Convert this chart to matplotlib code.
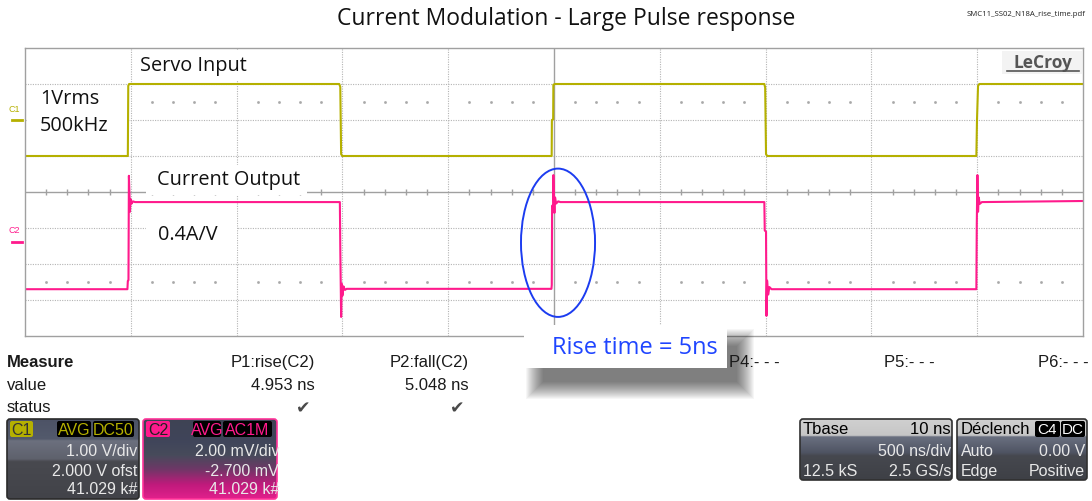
import numpy as np
import matplotlib.pyplot as plt
from matplotlib.patches import Ellipse, Rectangle, FancyBboxPatch
from matplotlib.colors import to_rgb

plt.rcParams['font.family'] = ['Open Sans', 'DejaVu Sans']

# --- traces: time in us (500 ns/div), amplitude in divisions ---
c1_t = [-2.5, -2.014, -2.012, -2.008, -1.015, -1.010, -1.006, -1.000,
        -0.011, -0.010, -0.004, -0.003, 0.005, 0.994, 0.998, 1.002, 1.008,
        1.996, 1.999, 2.004, 2.010, 2.5]
c1_div = [1.0, 1.0, 2.95, 3.0, 3.0, 2.92, 1.05, 1.0,
          1.0, 2.0, 2.02, 2.98, 3.0, 3.0, 2.9, 1.05, 1.0,
          1.0, 2.0, 2.95, 3.0, 3.0]

c2_t = [-2.5, -2.016, -2.014, -2.011, -2.009, -2.006, -2.004, -2.001, -1.996, -1.990, -1.980,
        -1.012, -1.010, -1.006, -1.003, -1.000, -0.995, -0.988, -0.980,
        -0.012, -0.0105, -0.009, -0.004, -0.003, 0.000, 0.002, 0.005, 0.010, 0.020, 0.030,
        0.994, 0.996, 1.002, 1.004, 1.007, 1.012, 1.018, 1.028,
        1.996, 1.998, 2.001, 2.004, 2.007, 2.012, 2.022, 2.5]
c2_div = [-2.70, -2.70, -2.47, -2.45, 0.45, -0.10, -0.55, -0.20, -0.32, -0.26, -0.28,
          -0.28, -1.55, -3.47, -2.55, -2.88, -2.62, -2.72, -2.69,
          -2.69, -2.58, -0.38, -0.40, 0.47, -0.35, -0.58, -0.15, -0.32, -0.26, -0.28,
          -0.28, -1.07, -1.10, -3.44, -2.46, -2.85, -2.64, -2.70,
          -2.70, -0.90, 0.47, -0.55, -0.15, -0.33, -0.28, -0.25]

measure_names = ['P1:rise(C2)', 'P2:fall(C2)']
measure_values = ['4.953 ns', '5.048 ns']
empty_params = ['P4:- - -', 'P5:- - -', 'P6:- - -']
c1_settings = ['1.00 V/div', '2.000 V ofst', '41.029 k#']
c2_settings = ['2.00 mV/div', '-2.700 mV', '41.029 k#']
tbase_rows = [('', '500 ns/div'), ('12.5 kS', '2.5 GS/s')]
trig_rows = [('Auto', '0.00 V'), ('Edge', 'Positive')]

YEL = '#b5b000'
PINK = '#ff1a8c'
PANEL = 'Liberation Sans'

W, H = 1092, 502
fig = plt.figure(figsize=(W / 100, H / 100), dpi=100)
fig.patch.set_facecolor('white')

# scope grid: 10 x 8 divisions
scope = fig.add_axes([25 / W, 1 - 337 / H, 1058 / W, 288 / H])
ov = fig.add_axes([0, 0, 1, 1])
ov.set_xlim(0, W)
ov.set_ylim(H, 0)
ov.axis('off')
px = ov.transData

scope.set_xlim(-2.5, 2.5)
scope.set_ylim(-4, 4)
scope.set_xticks([])
scope.set_yticks([])
for s in scope.spines.values():
    s.set_color('#a0a0a0')
    s.set_linewidth(1)

dot = (0, (1, 1.2))
for x in np.arange(-2.0, 2.01, 0.5):
    if abs(x) > 1e-9:
        scope.axvline(x, color='#b4b4b4', lw=0.8, ls=dot, zorder=1)
for y in np.arange(-3, 4):
    if y != 0:
        scope.axhline(y, color='#b4b4b4', lw=0.8, ls=dot, zorder=1)
scope.axhline(0, color='#a0a0a0', lw=1.0, zorder=1)
scope.axvline(0, color='#a0a0a0', lw=1.0, zorder=1)
minor_x = [x for x in np.arange(-2.4, 2.41, 0.1) if abs(x * 2 - round(x * 2)) > 1e-6]
scope.vlines(minor_x, -0.08, 0.08, color='#a0a0a0', lw=1.0, zorder=1)
for yy in (2.5, -2.5):
    scope.plot(minor_x, [yy] * len(minor_x), ls='none', marker='s', ms=0.9,
               color='#a8a8a8', zorder=1)

# white label boxes and labels on the screen (pixel coordinates)
for (x0, y0, x1, y1) in [(134, 51, 258, 82), (27, 87, 127, 150),
                         (146, 166, 307, 196), (146, 209, 237, 256)]:
    scope.add_patch(Rectangle((x0, y0), x1 - x0, y1 - y0, transform=px,
                              fc='white', ec='none', zorder=1.5))
for (x, y, s) in [(140, 66, 'Servo Input'), (40, 99, '1Vrms'), (40, 126, '500kHz'),
                  (157, 180, 'Current Output'), (158, 235, '0.4A/V')]:
    scope.text(x, y, s, transform=px, fontsize=14.3, color='#111111',
               ha='left', va='center', zorder=1.6)

scope.plot(c1_t, c1_div, color=YEL, lw=1.5, zorder=2)
scope.plot(c2_t, c2_div, color=PINK, lw=1.5, zorder=2.1)
scope.add_patch(Ellipse((0.019, -1.41), 0.35, 4.12, fill=False, ec='#1c3cf0',
                        lw=1.4, zorder=3))

# channel markers at the left edge
ov.text(14, 110, 'C1', color=YEL, fontsize=6.5, family=PANEL, ha='center', va='center')
ov.plot([12, 22], [121, 121], color=YEL, lw=2)
ov.text(14, 231, 'C2', color=PINK, fontsize=6.5, family=PANEL, ha='center', va='center')
ov.plot([12, 22], [243, 243], color=PINK, lw=2)

# titles
ov.text(566, 19, 'Current Modulation - Large Pulse response', fontsize=16.5,
        color='#111111', ha='center', va='center')
ov.text(1085, 15, 'SMC11_SS02_N18A_rise_time.pdf', fontsize=5.6,
        color='#222222', ha='right', va='center')
ov.add_patch(Rectangle((1002, 52), 80, 23, fc='#f3f3f3', ec='none', zorder=2))
ov.text(1043, 63, 'LeCroy', fontsize=12.5, fontweight='bold', color='#555555',
        ha='center', va='center', zorder=3)
ov.plot([1007, 1079], [72, 72], color='#555555', lw=1.2, zorder=3)

# measurement table
ov.text(7, 363, 'Measure', family=PANEL, fontsize=12, fontweight='bold',
        color='#1a1a1a', va='center')
ov.text(7, 386, 'value', family=PANEL, fontsize=12, color='#1a1a1a', va='center')
ov.text(7, 408, 'status', family=PANEL, fontsize=12, color='#1a1a1a', va='center')
for right, name, val in zip([315, 469], measure_names, measure_values):
    ov.text(right, 363, name, family=PANEL, fontsize=12, color='#1a1a1a',
            ha='right', va='center')
    ov.text(right, 386, val, family=PANEL, fontsize=12, color='#1a1a1a',
            ha='right', va='center')
    ov.text(right - 12, 408, '\u2714', family='DejaVu Sans', fontsize=12.5,
            color='#4a4a4a', ha='center', va='center')
for left, name in zip([729, 884, 1038], empty_params):
    ov.text(left, 363, name, family=PANEL, fontsize=12, color='#1a1a1a',
            ha='left', va='center', zorder=12)


def grad_box(x0, y0, x1, y1, stops, edge):
    box = FancyBboxPatch((x0, y0), x1 - x0, y1 - y0,
                         boxstyle='round,pad=0,rounding_size=3',
                         fc='none', ec=edge, lw=1.2, zorder=3)
    ov.add_patch(box)
    ys = np.linspace(0, 1, 256)
    pos = [p for p, _ in stops]
    cols = np.array([to_rgb(c) for _, c in stops])
    arr = np.stack([np.interp(ys, pos, cols[:, k]) for k in range(3)], axis=-1)[:, None, :]
    im = ov.imshow(arr, extent=(x0, x1, y1, y0), aspect='auto', origin='upper',
                   interpolation='bilinear', zorder=2)
    im.set_clip_path(box)
    return box


def pill(x0, y0, x1, y1, fc, text, tc, size=11.5):
    ov.add_patch(FancyBboxPatch((x0, y0), x1 - x0, y1 - y0,
                                boxstyle='round,pad=0,rounding_size=2',
                                fc=fc, ec='none', zorder=4))
    ov.text((x0 + x1) / 2, (y0 + y1) / 2 + 0.5, text, color=tc, family=PANEL,
            fontsize=size, ha='center', va='center', zorder=5)


def box_text(x, y, s, ha, clip=None, color='#e8e8e8'):
    t = ov.text(x, y, s, family=PANEL, fontsize=11.5, color=color,
                ha=ha, va='center', zorder=5)
    if clip is not None:
        t.set_clip_path(clip)


# C1 channel box
b1 = grad_box(7, 420, 139, 500,
              [(0, '#4d5366'), (0.25, '#535a6c'), (0.27, '#6c707e'), (0.5, '#5e616c'),
               (0.53, '#48494f'), (1, '#424349')], '#2a2a2a')
pill(10, 422, 33, 438, YEL, 'C1', '#333333')
pill(57, 422, 91, 438, 'black', 'AVG', YEL)
pill(93, 422, 134, 438, 'black', 'DC50', YEL)
for y, s in zip([452, 471.5, 490], c1_settings):
    box_text(137, y, s, 'right', b1)

# C2 channel box
b2 = grad_box(143, 420, 277, 500,
              [(0, '#3e4354'), (0.27, '#40455a'), (0.45, '#474b5b'), (0.62, '#6c3866'),
               (0.82, '#c01a7c'), (1, '#e2208c')], '#ff3399')
pill(146, 422, 170, 438, PINK, 'C2', '#222222')
pill(193, 422, 221, 438, 'black', 'AVG', PINK)
pill(223, 422, 272, 438, 'black', 'AC1M', PINK)
for y, s in zip([452, 471.5, 490], c2_settings):
    box_text(279, y, s, 'right', b2)

# timebase and trigger boxes
body = [(0, '#d0d0d0'), (0.27, '#c6c6c6'), (0.29, '#6a7080'), (0.55, '#4f5463'),
        (0.6, '#46484f'), (1, '#3e4046')]
bt = grad_box(800, 420, 952, 481, body, '#303030')
ov.text(803, 430, 'Tbase', family=PANEL, fontsize=12, color='black', va='center', zorder=5)
ov.text(951, 430, '10 ns', family=PANEL, fontsize=12, color='black', ha='right',
        va='center', zorder=5)
for y, (l, r) in zip([452, 471.5], tbase_rows):
    box_text(803, y, l, 'left', bt)
    box_text(951, y, r, 'right', bt)

btr = grad_box(957, 420, 1087, 481, body, '#303030')
ov.text(961, 430, 'Déclench', family=PANEL, fontsize=12, color='black', va='center', zorder=5)
pill(1035, 422, 1060, 438, 'black', 'C4', 'white', size=11)
pill(1061, 422, 1085, 438, 'black', 'DC', 'white', size=11)
for y, (l, r) in zip([452, 471.5], trig_rows):
    box_text(961, y, l, 'left', btr)
    box_text(1085, y, r, 'right', btr)

# rise time call-out with soft drop shadow
for k in range(18):
    pad = 14 - k
    ov.add_patch(Rectangle((540 - pad, 344 - pad), 200 + 2 * pad, 42 + 2 * pad,
                           fc='black', ec='none', alpha=0.035, zorder=8))
ov.add_patch(Rectangle((524, 326), 203, 43, fc='white', ec='none', zorder=9))
ov.text(552, 348, 'Rise time = 5ns', color='#1f45ff', fontsize=17,
        ha='left', va='center', zorder=10)

ov.set_xlim(0, W)
ov.set_ylim(H, 0)
fig.savefig('out.png', dpi=100)
